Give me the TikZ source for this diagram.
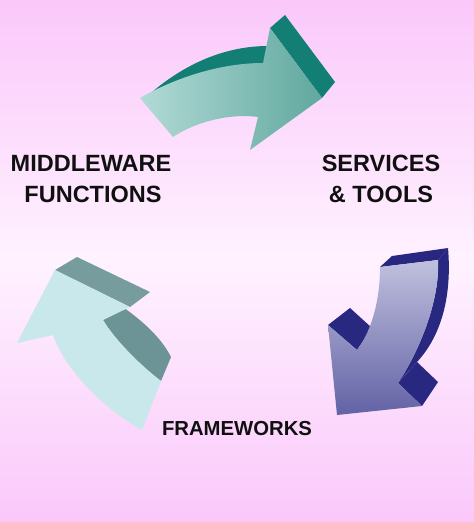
\documentclass[tikz,border=0pt]{standalone}
\usepackage{fontspec}
\setmainfont{Liberation Sans}
\definecolor{bgpink}{RGB}{250,200,250}
\definecolor{bgmid}{RGB}{255,242,255}
\definecolor{tealL}{RGB}{178,218,214}
\definecolor{tealR}{RGB}{96,168,158}
\definecolor{tealD}{RGB}{18,126,116}
\definecolor{blueT}{RGB}{192,192,222}
\definecolor{blueB}{RGB}{98,98,165}
\definecolor{blueD}{RGB}{40,40,128}
\definecolor{cyanF}{RGB}{200,232,235}
\definecolor{cyanD}{RGB}{118,156,158}
\definecolor{cyanS}{RGB}{108,148,150}
\definecolor{txt}{RGB}{16,16,16}
\tikzset{
  bigtext/.style={font=\bfseries\fontsize{23.5bp}{31bp}\selectfont, text=txt, inner sep=0pt, anchor=base},
  smalltext/.style={font=\bfseries\fontsize{20.3bp}{26bp}\selectfont, text=txt, inner sep=0pt, anchor=base}
}
\begin{document}
\begin{tikzpicture}[x=1bp,y=-1bp]
\useasboundingbox (0,0) rectangle (474,522);
% background
\shade[top color=bgpink, bottom color=bgpink, middle color=bgmid, draw=none] (0,0) rectangle (474,522);

% ---- top teal arrow ----
\fill[tealD] (152,92) .. controls (190,60) and (230,46) .. (268,46) -- (276,50) -- (263,80) -- cycle;
\fill[tealD] (270,28) -- (285,15) -- (335,82) -- (322,98) -- cycle;
\shade[left color=tealL, right color=tealR, draw=none]
  (140,98) .. controls (175,78) and (220,63) .. (263,63) -- (270,28) -- (322,98) -- (250,150) -- (258,117)
  .. controls (230,113) and (195,122) .. (173,137) -- cycle;

% ---- right blue arrow ----
\fill[blueD] (380,267) -- (392,256) -- (448,248) -- (438,260) -- cycle;
\fill[blueD] (448,248) .. controls (452,295) and (442,335) .. (417,362) -- (405,375) -- (398,383)
  .. controls (420,350) and (440,300) .. (438,260) -- cycle;
\fill[blueD] (328,325) -- (350,308) -- (372,328) -- (357,350) -- cycle;
\fill[blueD] (398,383) -- (417,362) -- (438,382) -- (422,406) -- cycle;
\shade[top color=blueT, bottom color=blueB, draw=none]
  (380,267) .. controls (380,300) and (372,330) .. (357,350) -- (328,325) -- (337,415) -- (422,406) -- (398,383)
  .. controls (420,350) and (440,300) .. (438,260) -- cycle;

% ---- left cyan arrow ----
\fill[cyanD] (55,270) -- (77,257) -- (150,292) -- (130,307) -- cycle;
\fill[cyanS] (103,320) -- (123,307) .. controls (138,318) and (160,335) .. (171,357) -- (161,381)
  .. controls (140,365) and (115,340) .. (103,320) -- cycle;
\fill[cyanF] (55,270) -- (130,307) -- (103,320) .. controls (115,340) and (140,365) .. (161,381) -- (142,430)
  .. controls (105,410) and (65,370) .. (53,335) -- (17,343) -- cycle;

% ---- labels ----
\node[bigtext] (mw1) at (91,172) {MIDDLEWARE};
\node[bigtext] (mw2) at (93,203) {FUNCTIONS};
\node[bigtext] (sv1) at (381,172) {SERVICES};
\node[bigtext] (sv2) at (381,203) {\& TOOLS};
\node[smalltext] (fw) at (237,435) {FRAMEWORKS};
\end{tikzpicture}
\end{document}
